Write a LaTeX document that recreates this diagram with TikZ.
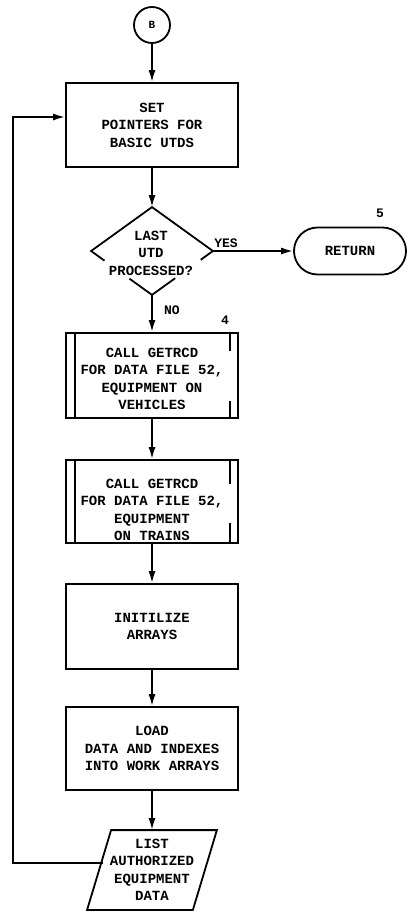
\documentclass[tikz,border=0pt]{standalone}
\usepackage{fontspec}
\setmonofont{Liberation Mono}
\usetikzlibrary{arrows.meta,shapes.geometric,shapes.misc,calc}
\begin{document}
\begin{tikzpicture}[x=1pt,y=-1pt,line width=1.8pt,
  every node/.style={font=\ttfamily\bfseries\fontsize{14}{17.5}\selectfont,align=center,inner sep=0pt},
  box/.style={draw,rectangle,minimum width=172pt,minimum height=84pt},
  arr/.style={-{Latex[length=12pt,width=7pt]}},
  lbl/.style={font=\ttfamily\bfseries\fontsize{13}{15}\selectfont}]
\useasboundingbox (0,0) rectangle (407,911);
\fill[white] (0,0) rectangle (407,911);

\node[draw,circle,minimum size=36pt,font=\ttfamily\bfseries\fontsize{11}{13}\selectfont] (B) at (152,25) {B};
\node[box] (set) at (152,125) {SET\\POINTERS FOR\\BASIC UTDS};

\node[diamond,minimum width=120pt,minimum height=86pt] (dec) at (152,251) {};
\draw ($(dec.south)!0.78!(dec.west)$) -- (dec.west) -- (dec.north) -- (dec.east) -- ($(dec.east)!0.2!(dec.south)$);
\draw ($(dec.east)!0.62!(dec.south)$) -- (dec.south) -- ($(dec.south)!0.37!(dec.west)$);
\node (dectxt) at (151,253) {LAST\\UTD\\PROCESSED?};

\node[draw,rounded rectangle,minimum width=112pt,minimum height=47pt] (ret) at (350,251) {RETURN};

\node[box,minimum height=85pt] (call1) at (152,375.5) {};
\draw ([xshift=10pt]call1.north west) -- ([xshift=10pt]call1.south west);
\draw ([xshift=-9pt]call1.north east) -- ++(0,19);
\draw ([xshift=-9pt]call1.south east) -- ++(0,-18);
\node (call1txt) at (152,379) {CALL GETRCD\\FOR DATA FILE 52,\\EQUIPMENT ON\\VEHICLES};

\node[box,minimum height=83pt] (call2) at (152,501.5) {};
\draw ([xshift=10pt]call2.north west) -- ([xshift=10pt]call2.south west);
\draw ([xshift=-9pt]call2.north east) -- ++(0,25);
\draw ([xshift=-9pt]call2.south east) -- ++(0,-21);
\node (call2txt) at (152,510) {CALL GETRCD\\FOR DATA FILE 52,\\EQUIPMENT\\ON TRAINS};

\node[box,minimum height=85pt] (init) at (152,626.5) {INITILIZE\\ARRAYS};
\node[box,minimum height=83pt] (load) at (152,748.5) {LOAD\\DATA AND INDEXES\\INTO WORK ARRAYS};

\node[minimum width=104pt,minimum height=78pt] (list) at (152,870) {LIST\\AUTHORIZED\\EQUIPMENT\\DATA};
\draw ([xshift=12pt]list.north west) -- ([xshift=12pt]list.north east) -- ([xshift=-12pt]list.south east) -- ([xshift=-12pt]list.south west) -- cycle;

\draw[arr] (B) -- (set);
\draw[arr] (set) -- (dec.north);
\draw[arr] (dec.east) -- (ret);
\draw[arr] (dec.south) -- (call1);
\draw[arr] (call1) -- (call2);
\draw[arr] (call2) -- (init);
\draw[arr] (init) -- (load);
\draw[arr] (load) -- (list.north);

\coordinate (loopstart) at (103,863);
\coordinate (loopcorner) at (13,863);
\draw[arr] (loopstart) -- (loopcorner) |- ([yshift=8pt]set.west);

\node[lbl] (yes) at (226,243) {YES};
\node[lbl] (no) at (172,310) {NO};
\node[lbl] (n4) at (225,320) {4};
\node[lbl] (n5) at (380,213) {5};
\end{tikzpicture}
\end{document}
